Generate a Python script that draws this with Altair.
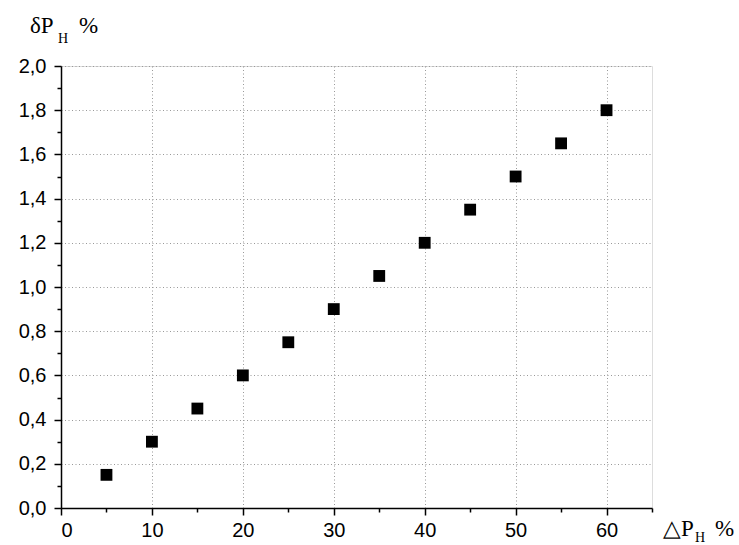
import altair as alt
import pandas as pd

x_vals = [5, 10, 15, 20, 25, 30, 35, 40, 45, 50, 55, 60]
y_vals = [0.15, 0.30, 0.45, 0.60, 0.75, 0.90, 1.05, 1.20, 1.35, 1.50, 1.65, 1.80]
x_major = [0, 10, 20, 30, 40, 50, 60]
x_minor = [5, 15, 25, 35, 45, 55, 65]
y_major = [0.0, 0.2, 0.4, 0.6, 0.8, 1.0, 1.2, 1.4, 1.6, 1.8, 2.0]
y_minor = [0.1, 0.3, 0.5, 0.7, 0.9, 1.1, 1.3, 1.5, 1.7, 1.9]

df = pd.DataFrame({"x": x_vals, "y": y_vals})

W, H = 591, 442
xs = alt.Scale(domain=[0, 65], nice=False, zero=False)
ys = alt.Scale(domain=[0, 2.0], nice=False, zero=False)

lab_font = "Liberation Sans"
ttl_font = "Liberation Serif"

common_axis = dict(domainColor="black", domainWidth=1.5, tickColor="black", tickWidth=1.5,
                   labelColor="black", labelFont=lab_font, labelFontSize=20, title=None)

points = alt.Chart(df).mark_point(shape="square", filled=True, size=140, color="black", opacity=1).encode(
    x=alt.X("x:Q", scale=xs, axis=alt.Axis(values=x_major, tickSize=7, labelPadding=5,
                                            grid=True, gridColor="#999999", gridDash=[1, 2.5], gridWidth=1,
                                            format="d", **common_axis)),
    y=alt.Y("y:Q", scale=ys, axis=alt.Axis(values=y_major, tickSize=7, labelPadding=8,
                                            grid=True, gridColor="#999999", gridDash=[1, 2.5], gridWidth=1,
                                            labelExpr="replace(format(datum.value, '.1f'), '.', ',')",
                                            **common_axis)),
)

minor = alt.Chart(df).mark_point(opacity=0).encode(
    x=alt.X("x:Q", scale=xs, axis=alt.Axis(orient="bottom", values=x_minor, tickSize=4, labels=False,
                                            domain=False, grid=False, tickColor="black", tickWidth=1.5, title=None)),
    y=alt.Y("y:Q", scale=ys, axis=alt.Axis(orient="left", values=y_minor, tickSize=4, labels=False,
                                            domain=False, grid=False, tickColor="black", tickWidth=1.5, title=None)),
)

one = pd.DataFrame({"a": [0]})

def txt(s, px, py, size):
    return alt.Chart(one).mark_text(text=s, font=ttl_font, fontSize=size, color="black",
                                    align="left", baseline="alphabetic").encode(
        x=alt.value(px), y=alt.value(py))

titles = [
    txt("δP", -31, -33, 23),
    txt("Н", -3, -23, 14),
    txt("%", 18, -33, 23),
    txt("△P", 602, 470, 23),
    txt("Н", 634, 476, 14),
    txt("%", 654, 470, 23),
]

chart = alt.layer(points, minor, *titles).resolve_axis(x="independent", y="independent").properties(
    width=W, height=H,
    autosize=alt.AutoSizeParams(type="none"),
    padding={"left": 61, "top": 66, "right": 87, "bottom": 37},
).configure_view(stroke="black", strokeWidth=1.5).configure(background="white")

chart.save("out.html", embed_options={"renderer": "svg", "actions": False})
